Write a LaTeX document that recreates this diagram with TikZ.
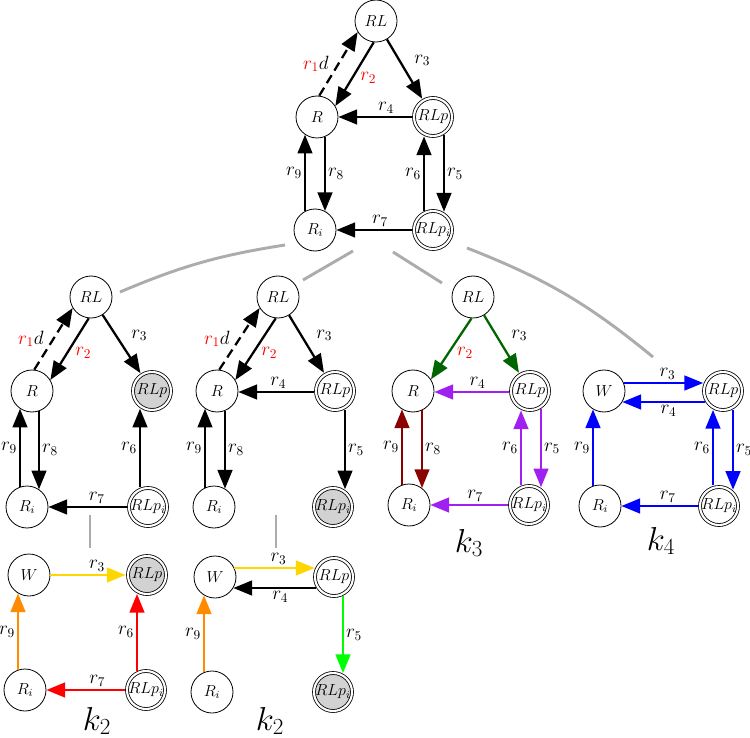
\documentclass[tikz,border=0pt]{standalone}
\usetikzlibrary{arrows.meta,calc}
\definecolor{dgreen}{RGB}{0,100,0}
\definecolor{mypurple}{RGB}{160,32,240}
\definecolor{dred}{RGB}{139,0,0}
\definecolor{mygold}{RGB}{255,215,0}
\definecolor{myorange}{RGB}{255,140,0}
\definecolor{mygreen}{RGB}{0,255,0}
\definecolor{myblue}{RGB}{0,0,255}
\newcommand\fsn{\fontsize{12}{14}\selectfont}
\newcommand\fsl{\fontsize{14.4}{17}\selectfont}
\newcommand\nt[1]{\makebox[0pt]{$#1$}}
\def\myrad{16.05}
% vertical edge at x (px) between two circular nodes
\newcommand\vedge[5][]{\draw[ed,#1] let \p1=(#2), \p2=(#3), \n1={#4*0.75}, \n2={(\y2-\y1)/abs(\y2-\y1)}, \n3={sqrt(\myrad*\myrad-(\n1-\x1)*(\n1-\x1))}, \n4={sqrt(\myrad*\myrad-(\n1-\x2)*(\n1-\x2))} in ({\n1*1pt},{\y1+\n2*\n3*1pt}) -- #5 ({\n1*1pt},{\y2-\n2*\n4*1pt});}
% horizontal edge at y (px) between two circular nodes
\newcommand\hedge[5][]{\draw[ed,#1] let \p1=(#2), \p2=(#3), \n1={-#4*0.75}, \n2={(\x2-\x1)/abs(\x2-\x1)}, \n3={sqrt(\myrad*\myrad-(\n1-\y1)*(\n1-\y1))}, \n4={sqrt(\myrad*\myrad-(\n1-\y2)*(\n1-\y2))} in ({\x1+\n2*\n3*1pt},{\n1*1pt}) -- #5 ({\x2-\n2*\n4*1pt},{\n1*1pt});}
\begin{document}
\begin{tikzpicture}[x=0.75pt,y=-0.75pt,
 st/.style={circle,draw,line width=0.6pt,minimum size=31.5pt,inner sep=0pt,outer sep=0.3pt,font=\fsn},
 dst/.style={st,double,double distance=1.6pt,minimum size=28.5pt,outer sep=1.7pt},
 gf/.style={fill=gray!35},
 ed/.style={line width=1.7pt,-{Triangle[length=14pt,width=11pt]}},
 dsh/.style={dash pattern=on 7pt off 4pt},
 lab/.style={font=\fsl,inner sep=1.5pt,text=black},
 gl/.style={draw=gray!65,line width=2.2pt},
 kl/.style={font=\fontsize{25}{30}\selectfont,anchor=base,inner sep=0pt,text=black}]
\useasboundingbox (0,0) rectangle (750,738);

% ---- grey tree connectors
\coordinate (g1a) at (120,292); \coordinate (g1b) at (285,245);
\coordinate (g2a) at (303,280); \coordinate (g2b) at (353,251);
\coordinate (g3a) at (393,252); \coordinate (g3b) at (442,283);
\coordinate (g4a) at (467,248); \coordinate (g4b) at (653,357);
\coordinate (g5a) at (90,515);  \coordinate (g5b) at (90,548);
\coordinate (g6a) at (276,515); \coordinate (g6b) at (276,548);
\draw[gl] (g1a) to[bend left=7] (g1b);
\draw[gl] (g2a) -- (g2b);
\draw[gl] (g3a) -- (g3b);
\draw[gl] (g4a) to[bend left=9] (g4b);
\draw[gl] (g5a) -- (g5b);
\draw[gl] (g6a) -- (g6b);

% ---- top graph
\node[st] (aRL) at (376,21) {\nt{RL}};
\node[st] (aR) at (317,117) {\nt{R}};
\node[dst] (aRLp) at (433,117) {\nt{RLp}};
\node[st] (aRi) at (315,230) {\nt{R_i}};
\node[dst] (aRLpi) at (433,230) {\nt{RLp_i}};
\draw[ed,dsh] (aR.84) -- node[lab,left,xshift=-5pt]{${\color{red}r_1}d$} (aRL.211);
\draw[ed] (aRL.264) -- node[lab,right,xshift=2pt,yshift=-3pt]{$\color{red}r_2$} (aR.31);
\draw[ed] (aRL) -- node[lab,above right,xshift=5pt]{$r_3$} (aRLp);
\hedge{aRLp}{aR}{117}{node[lab,above,pos=0.35]{$r_4$}}
\vedge{aRi}{aR}{305}{node[lab,left,midway]{$r_9$}}
\vedge{aR}{aRi}{325}{node[lab,right,midway]{$r_8$}}
\vedge{aRLpi}{aRLp}{424}{node[lab,left,midway]{$r_6$}}
\vedge{aRLp}{aRLpi}{444}{node[lab,right,midway]{$r_5$}}
\hedge{aRLpi}{aRi}{230}{node[lab,above,pos=0.42]{$r_7$}}

% ---- middle graph 1
\node[st] (bRL) at (91,297) {\nt{RL}};
\node[st] (bR) at (32,391) {\nt{R}};
\node[dst,gf] (bRLp) at (152,391) {\nt{RLp}};
\node[st] (bRi) at (27,507) {\nt{R_i}};
\node[dst] (bRLpi) at (148,507) {\nt{RLp_i}};
\draw[ed,dsh] (bR.84) -- node[lab,left,xshift=-5pt]{${\color{red}r_1}d$} (bRL.211);
\draw[ed] (bRL.264) -- node[lab,right,xshift=2pt,yshift=-3pt]{$\color{red}r_2$} (bR.31);
\draw[ed] (bRL) -- node[lab,above right,xshift=5pt]{$r_3$} (bRLp);
\vedge{bRi}{bR}{20}{node[lab,left,midway]{$r_9$}}
\vedge{bR}{bRi}{39}{node[lab,right,midway]{$r_8$}}
\vedge{bRLpi}{bRLp}{140}{node[lab,left,midway]{$r_6$}}
\hedge{bRLpi}{bRi}{507}{node[lab,above,pos=0.38]{$r_7$}}

% ---- middle graph 2
\node[st] (cRL) at (278,297) {\nt{RL}};
\node[st] (cR) at (217,391) {\nt{R}};
\node[dst] (cRLp) at (335,391) {\nt{RLp}};
\node[st] (cRi) at (214,507) {\nt{R_i}};
\node[dst,gf] (cRLpi) at (333,507) {\nt{RLp_i}};
\draw[ed,dsh] (cR.84) -- node[lab,left,xshift=-5pt]{${\color{red}r_1}d$} (cRL.211);
\draw[ed] (cRL.264) -- node[lab,right,xshift=2pt,yshift=-3pt]{$\color{red}r_2$} (cR.31);
\draw[ed] (cRL) -- node[lab,above right,xshift=5pt]{$r_3$} (cRLp);
\hedge{cRLp}{cR}{392}{node[lab,above,pos=0.47]{$r_4$}}
\vedge{cRi}{cR}{205}{node[lab,left,midway]{$r_9$}}
\vedge{cR}{cRi}{225}{node[lab,right,midway]{$r_8$}}
\vedge{cRLp}{cRLpi}{345}{node[lab,right,midway]{$r_5$}}

% ---- middle graph 3
\node[st] (dRL) at (473,297) {\nt{RL}};
\node[st] (dR) at (413,391) {\nt{R}};
\node[dst] (dRLp) at (530,391) {\nt{RLp}};
\node[st] (dRi) at (409,505) {\nt{R_i}};
\node[dst] (dRLpi) at (529,505) {\nt{RLp_i}};
\draw[ed,dgreen] (dRL.266) -- node[lab,right,xshift=2pt,yshift=-3pt]{$\color{red}r_2$} (dR.33);
\draw[ed,dgreen] (dRL) -- node[lab,above right,xshift=5pt]{$r_3$} (dRLp);
\hedge[mypurple]{dRLp}{dR}{392}{node[lab,above,pos=0.42]{$r_4$}}
\vedge[dred]{dRi}{dR}{402}{node[lab,left,midway]{$r_9$}}
\vedge[dred]{dR}{dRi}{422}{node[lab,right,midway]{$r_8$}}
\vedge[mypurple]{dRLpi}{dRLp}{521}{node[lab,left,midway]{$r_6$}}
\vedge[mypurple]{dRLp}{dRLpi}{541}{node[lab,right,midway]{$r_5$}}
\hedge[mypurple]{dRLpi}{dRi}{505}{node[lab,above,pos=0.42]{$r_7$}}
\node[kl] (k3) at (469,552) {$k_3$};

% ---- middle graph 4
\node[st] (eW) at (604,391) {\nt{W}};
\node[dst] (eRLp) at (723,391) {\nt{RLp}};
\node[st] (eRi) at (600,506) {\nt{R_i}};
\node[dst] (eRLpi) at (719,506) {\nt{RLp_i}};
\hedge[myblue]{eW}{eRLp}{383}{node[lab,above,pos=0.55]{$r_3$}}
\hedge[myblue]{eRLp}{eW}{402}{node[lab,below,pos=0.44]{$r_4$}}
\vedge[myblue]{eRi}{eW}{593}{node[lab,left,midway]{$r_9$}}
\vedge[myblue]{eRLpi}{eRLp}{713}{node[lab,left,midway]{$r_6$}}
\vedge[myblue]{eRLp}{eRLpi}{733}{node[lab,right,midway]{$r_5$}}
\hedge[myblue]{eRLpi}{eRi}{506}{node[lab,above,pos=0.39]{$r_7$}}
\node[kl] (k4) at (661,550) {$k_4$};

% ---- bottom graph 1
\node[st] (fW) at (29,575) {\nt{W}};
\node[dst,gf] (fRLp) at (147,575) {\nt{RLp}};
\node[st] (fRi) at (25,690) {\nt{R_i}};
\node[dst] (fRLpi) at (146,690) {\nt{RLp_i}};
\hedge[mygold]{fW}{fRLp}{575}{node[lab,above,pos=0.62]{$r_3$}}
\vedge[myorange]{fRi}{fW}{18}{node[lab,left,midway]{$r_9$}}
\vedge[red]{fRLpi}{fRLp}{137}{node[lab,left,midway]{$r_6$}}
\hedge[red]{fRLpi}{fRi}{690}{node[lab,above,pos=0.35]{$r_7$}}
\node[kl] (k2a) at (97,730) {$k_2$};

% ---- bottom graph 2
\node[st] (gW) at (215,577) {\nt{W}};
\node[dst] (gRLp) at (334,577) {\nt{RLp}};
\node[st] (gRi) at (212,692) {\nt{R_i}};
\node[dst,gf] (gRLpi) at (333,692) {\nt{RLp_i}};
\hedge[mygold]{gW}{gRLp}{568}{node[lab,above,pos=0.55]{$r_3$}}
\hedge{gRLp}{gW}{588}{node[lab,below,pos=0.43]{$r_4$}}
\vedge[myorange]{gRi}{gW}{204}{node[lab,left,midway]{$r_9$}}
\vedge[mygreen]{gRLp}{gRLpi}{343}{node[lab,right,midway]{$r_5$}}
\node[kl] (k2b) at (270,730) {$k_2$};
\end{tikzpicture}
\end{document}
